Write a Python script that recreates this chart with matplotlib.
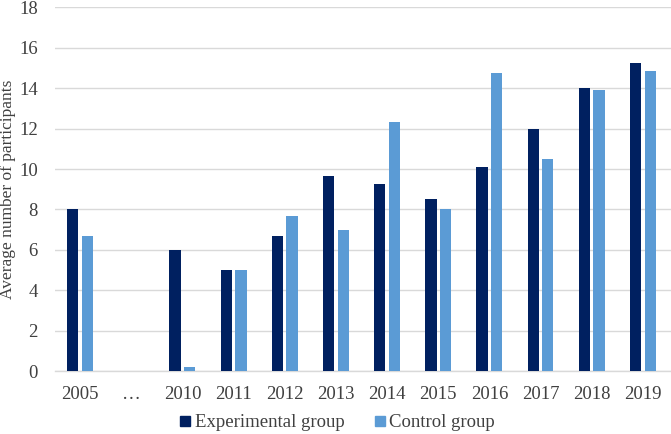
import numpy as np
import matplotlib

matplotlib.use("Agg")
import matplotlib.pyplot as plt  # noqa: E402
from matplotlib.lines import Line2D  # noqa: E402

years = ["2005", "\u2026", "2010", "2011", "2012", "2013", "2014", "2015", "2016", "2017", "2018", "2019"]
experimental = [8.0, np.nan, 6.0, 5.0, 6.67, 9.67, 9.25, 8.5, 10.1, 12.0, 14.0, 15.25]
control = [6.7, np.nan, 0.2, 5.0, 7.67, 7.0, 12.33, 8.0, 14.75, 10.5, 13.9, 14.85]

DARK = "#002060"
LIGHT = "#5B9BD5"
GRID = "#D9D9D9"
TEXT = "#404040"

plt.rcParams.update({
    "font.family": ["Liberation Serif", "DejaVu Serif"],
    "text.color": TEXT, "axes.labelcolor": TEXT,
    "xtick.color": TEXT, "ytick.color": TEXT,
})

fig = plt.figure(figsize=(6.71, 4.34), dpi=100)
ax = fig.add_axes([0.082, 0.145, 0.918, 0.838])

x = np.arange(len(years))
w = 0.22
ax.bar(x - 0.143, experimental, width=w, color=DARK, zorder=3, label="Experimental group")
ax.bar(x + 0.143, control, width=w, color=LIGHT, zorder=3, label="Control group")

ax.set_ylim(0, 18)
ax.set_yticks(range(0, 19, 2))
ax.set_xlim(-0.49, 11.55)
ax.set_xticks(x)
ax.set_xticklabels(years)
ax.tick_params(axis="both", length=0, labelsize=13.5)
ax.tick_params(axis="x", pad=11)
ax.tick_params(axis="y", pad=12.5)
ax.yaxis.grid(True, color=GRID, lw=1.0)
ax.set_axisbelow(True)
for s in ("top", "right", "left"):
    ax.spines[s].set_visible(False)
ax.spines["bottom"].set_color(GRID)
ax.spines["bottom"].set_linewidth(1.0)
fig.text(8 / 671, 1 - 189 / 434, "Average number of participants", rotation=90,
         ha="center", va="center", fontsize=12.5, color=TEXT)

handles = [Line2D([0], [0], marker="s", color="none", markerfacecolor=DARK,
                  markeredgecolor=DARK, markersize=7, label="Experimental group"),
           Line2D([0], [0], marker="s", color="none", markerfacecolor=LIGHT,
                  markeredgecolor=LIGHT, markersize=7, label="Control group")]
fig.legend(handles=handles, loc="center", bbox_to_anchor=(0.5, 0.026), ncol=2,
           frameon=False, fontsize=13.5, handletextpad=0.0, columnspacing=1.4,
           handlelength=1.0)

fig.savefig("out.png", dpi=100)
